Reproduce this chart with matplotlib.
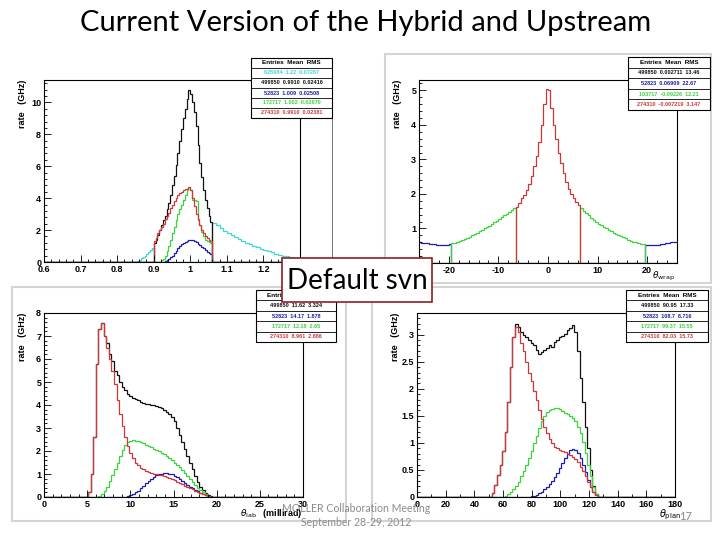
import numpy as np
import matplotlib
matplotlib.use('Agg')
import matplotlib.pyplot as plt
from matplotlib.patches import Rectangle
from matplotlib.ticker import MultipleLocator, FuncFormatter

# ---- data ----
# panel 1: x = 0.6..1.3, bins of 0.005
p1_black_start = 0.90
p1_black = [1.2, 1.4, 1.7, 2.0, 2.3, 2.6, 2.9, 3.3, 3.7, 4.2, 4.8, 5.4, 6.1, 6.8, 7.6, 8.3,
            9.0, 9.6, 10.2, 10.8, 10.5, 10.0, 9.4, 8.5, 7.3, 6.2, 5.3, 4.5, 3.9, 3.4, 2.9, 2.5]
p1_red_start = 0.90
p1_red = [1.3, 1.5, 1.8, 2.0, 2.2, 2.4, 2.7, 2.9, 3.1, 3.4, 3.6, 3.8, 4.0, 4.2, 4.3, 4.4,
          4.5, 4.6, 4.6, 4.7, 4.5, 4.0, 3.5, 3.0, 2.6, 2.3, 2.0, 1.8, 1.6, 1.5, 1.4, 1.3]
p1_green_start = 0.92
p1_green = [0.1, 0.2, 0.4, 0.7, 1.0, 1.4, 1.8, 2.2, 2.6, 3.0, 3.3, 3.6, 3.9, 4.2, 4.5, 4.7,
            4.5, 3.9, 3.9, 3.8, 2.7, 2.3, 1.9, 1.6, 1.4, 1.3, 1.25, 1.2]
p1_blue_start = 0.93
p1_blue = [0.05, 0.12, 0.2, 0.3, 0.4, 0.55, 0.7, 0.85, 1.0, 1.1, 1.2, 1.27, 1.32, 1.35, 1.36,
           1.35, 1.3, 1.25, 1.15, 1.05, 0.95, 0.85, 0.75, 0.65, 0.58, 0.52]
p1_cyan_left_start = 0.85
p1_cyan_left = [0.03, 0.08, 0.15, 0.22, 0.3, 0.4, 0.5, 0.62, 0.75, 0.9]
p1_cyan_right_start = 1.06   # bins of 0.01
p1_cyan_right = [2.45, 2.3, 2.12, 1.96, 1.82, 1.68, 1.55, 1.43, 1.31, 1.2, 1.1, 1.0,
                 0.92, 0.84, 0.76, 0.68, 0.6, 0.53, 0.46, 0.4, 0.35, 0.3, 0.26, 0.22]

# panel 2: x = -26..26, bins of 0.5
p2_red_start = -6.5
p2_red = [1.62, 1.75, 1.87, 1.98, 2.12, 2.30, 2.52, 2.80, 3.10, 3.50, 4.00, 4.60, 5.05,
          5.00, 4.50, 4.00, 3.60, 3.20, 2.90, 2.60, 2.35, 2.15, 2.00, 1.88, 1.78, 1.68]
p2_green_left_start = -19.5
p2_green_left = [0.57, 0.59, 0.62, 0.64, 0.67, 0.70, 0.73, 0.76, 0.80, 0.84, 0.88, 0.92, 0.96,
                 1.00, 1.04, 1.08, 1.13, 1.18, 1.23, 1.28, 1.33, 1.38, 1.43, 1.48, 1.53, 1.58]
p2_green_right_start = 6.5
p2_green_right = [1.60, 1.52, 1.45, 1.38, 1.31, 1.25, 1.19, 1.14, 1.09, 1.04, 1.00, 0.96, 0.92,
                  0.88, 0.84, 0.80, 0.77, 0.74, 0.71, 0.68, 0.65, 0.62, 0.60, 0.58, 0.56, 0.55]
p2_blue_left_start = -26.0
p2_blue_left = [0.60, 0.59, 0.58, 0.57, 0.56, 0.55, 0.54, 0.53, 0.53, 0.52, 0.52, 0.53, 0.54]
p2_blue_right_start = 19.5
p2_blue_right = [0.52, 0.51, 0.51, 0.52, 0.52, 0.53, 0.54, 0.55, 0.57, 0.58, 0.60, 0.61, 0.62]

# panel 3: theta_lab 0..30 mrad, bins of 0.3
p3_black_start = 5.1
p3_black = [0.2, 1.0, 2.6, 5.8, 7.3, 7.55, 7.0, 6.7, 6.2, 5.9, 5.5, 5.3, 5.0, 4.8, 4.65, 4.5,
            4.4, 4.3, 4.25, 4.2, 4.15, 4.1, 4.05, 4.05, 4.0, 4.02, 3.95, 3.9, 3.85, 3.8, 3.7,
            3.6, 3.5, 3.3, 3.0, 2.7, 2.4, 2.1, 1.8, 1.5, 1.2, 0.9, 0.65, 0.45, 0.3, 0.18, 0.08, 0.03]
p3_red_start = 5.1
p3_red = [0.2, 1.0, 2.6, 5.8, 7.3, 7.55, 7.0, 6.5, 6.0, 5.5, 4.9, 4.2, 3.6, 3.1, 2.6, 2.2,
          1.9, 1.7, 1.5, 1.38, 1.27, 1.2, 1.13, 1.08, 1.05, 1.02, 1.0, 0.97, 0.95, 0.9, 0.86,
          0.82, 0.77, 0.72, 0.66, 0.6, 0.55, 0.5, 0.44, 0.38, 0.33, 0.27, 0.21, 0.16, 0.11,
          0.07, 0.04, 0.02]
p3_green_start = 6.3
p3_green = [0.05, 0.12, 0.25, 0.45, 0.7, 0.95, 1.2, 1.5, 1.8, 2.05, 2.25, 2.38, 2.45, 2.47,
            2.45, 2.42, 2.38, 2.33, 2.28, 2.22, 2.16, 2.1, 2.04, 1.98, 1.92, 1.85, 1.78, 1.7,
            1.6, 1.5, 1.4, 1.3, 1.18, 1.05, 0.92, 0.78, 0.65, 0.52, 0.4, 0.29, 0.2, 0.12, 0.06, 0.02]
p3_blue_start = 9.3
p3_blue = [0.01, 0.03, 0.07, 0.13, 0.2, 0.28, 0.38, 0.48, 0.6, 0.7, 0.8, 0.88, 0.94, 0.99,
           1.02, 1.04, 1.04, 1.02, 0.98, 0.92, 0.85, 0.77, 0.68, 0.6, 0.52, 0.45, 0.38, 0.31,
           0.25, 0.19, 0.13, 0.08, 0.04, 0.01]

# panel 4: 0..180, bins of 1.8
p4_black_start = 52.2
p4_black = [0.08, 0.22, 0.4, 0.6, 0.85, 1.2, 1.75, 2.4, 2.95, 3.2, 3.15, 3.05, 3.0, 2.95,
            2.9, 2.85, 2.8, 2.72, 2.65, 2.68, 2.72, 2.76, 2.8, 2.78, 2.86, 2.9, 2.95, 2.98,
            3.02, 3.08, 3.12, 3.18, 3.05, 2.7, 2.2, 1.75, 1.3, 0.9, 0.5, 0.2, 0.05]
p4_red_start = 52.2
p4_red = [0.08, 0.22, 0.4, 0.6, 0.85, 1.2, 1.75, 2.4, 2.95, 3.15, 3.05, 2.85, 2.7, 2.5,
          2.3, 2.15, 1.95, 1.8, 1.6, 1.45, 1.3, 1.18, 1.08, 1.0, 0.93, 0.9, 0.87, 0.85,
          0.83, 0.8, 0.78, 0.74, 0.7, 0.64, 0.56, 0.48, 0.38, 0.28, 0.18, 0.1, 0.04]
p4_green_start = 61.2
p4_green = [0.02, 0.05, 0.1, 0.15, 0.2, 0.28, 0.38, 0.48, 0.6, 0.72, 0.85, 1.0, 1.12, 1.28,
            1.4, 1.5, 1.57, 1.61, 1.63, 1.64, 1.64, 1.62, 1.58, 1.55, 1.53, 1.5, 1.46, 1.4,
            1.3, 1.18, 1.02, 0.82, 0.6, 0.38, 0.18, 0.05]
p4_blue_start = 79.2
p4_blue = [0.01, 0.02, 0.04, 0.07, 0.1, 0.14, 0.19, 0.24, 0.3, 0.37, 0.45, 0.54, 0.63, 0.72,
           0.8, 0.86, 0.88, 0.87, 0.82, 0.72, 0.6, 0.46, 0.32, 0.19, 0.09, 0.03]

stats_header = 'Entries  Mean  RMS'
stats1 = ['625984  1.22  0.07287', '499850  0.9910  0.02416', '52823  1.009  0.02508',
          '172717  1.002  0.02670', '274310  0.9910  0.02381']
stats2 = ['499850  0.002711  13.46', '52823  0.06909  22.67', '103717  -0.09226  12.21',
          '274310  -0.007219  3.147']
stats3 = ['499850  11.62  3.324', '52823  14.17  1.878', '172717  12.18  2.65', '274310  8.961  2.886']
stats4 = ['499850  90.95  17.33', '52823  108.7  8.716', '172717  99.37  15.55', '274310  82.03  15.73']

CYAN, BLACK, BLUE, GREEN, RED = '#3fd6d6', '#111111', '#1c1ca8', '#3ad43a', '#cc3838'

W, H = 720, 540
fig = plt.figure(figsize=(7.2, 5.4), dpi=100)


def px(l, t, r, b):
    return [l / W, 1 - b / H, (r - l) / W, (b - t) / H]


def hist(ax, lo, hi, w, segs, color):
    n = int(round((hi - lo) / w))
    edges = lo + w * np.arange(n + 1)
    h = np.zeros(n)
    for start, vals in segs:
        i = int(round((start - lo) / w))
        h[i:i + len(vals)] = vals
    ax.stairs(h, edges, baseline=None, color=color, lw=0.9)


def setup(ax, xlim, ylim, xmaj, xmin, ymaj, ymin, lab_x):
    ax.set_xlim(*xlim)
    ax.set_ylim(*ylim)
    ax.xaxis.set_major_locator(MultipleLocator(xmaj))
    ax.xaxis.set_minor_locator(MultipleLocator(xmin))
    ax.yaxis.set_major_locator(MultipleLocator(ymaj))
    ax.yaxis.set_minor_locator(MultipleLocator(ymin))
    fmt = FuncFormatter(lambda v, p: '%g' % round(v, 6))
    ax.xaxis.set_major_formatter(fmt)
    ax.yaxis.set_major_formatter(fmt)
    ax.tick_params(which='both', direction='in', top=False, right=False,
                   labelsize=6.5, pad=2, width=0.6)
    ax.tick_params(which='major', length=5)
    ax.tick_params(which='minor', length=2.5)
    for lab in ax.get_xticklabels() + ax.get_yticklabels():
        lab.set_fontweight('bold')
    for s in ax.spines.values():
        s.set_linewidth(0.8)
    ax.set_ylabel('rate   (GHz)', fontsize=6.5, fontweight='bold', loc='top')
    ax.yaxis.set_label_coords(lab_x, 1.0)


def statbox(l, t, r, b, rows, colors):
    n = len(rows) + 1
    rh = (b - t) / n
    fig.patches.append(Rectangle((l / W, 1 - b / H), (r - l) / W, (b - t) / H,
                                 transform=fig.transFigure, facecolor='white',
                                 edgecolor='black', lw=0.8, zorder=5))
    texts = [stats_header] + rows
    cols = ['black'] + colors
    for i, (txt, c) in enumerate(zip(texts, cols)):
        yc = t + rh * (i + 0.5)
        fig.text((l + r) / 2 / W, 1 - yc / H, txt, color=c, ha='center', va='center',
                 fontsize=4.6 if i == 0 else 4.0, fontweight='bold',
                 family='Liberation Sans', zorder=6)
        if i > 0:
            y0 = t + rh * i
            fig.lines.append(plt.Line2D([l / W, r / W], [1 - y0 / H, 1 - y0 / H],
                                        transform=fig.transFigure, color='black',
                                        lw=0.6, zorder=6))


plt.rcParams['font.family'] = ['Liberation Sans', 'DejaVu Sans']

# light grey canvas borders
for (l, t, r, b) in [(385, 54, 711, 283), (12, 287, 346, 521), (372, 287, 711, 521)]:
    fig.patches.append(Rectangle((l / W, 1 - b / H), (r - l) / W, (b - t) / H,
                                 transform=fig.transFigure, facecolor='none',
                                 edgecolor='#d4d4d4', lw=1.5, zorder=0))
fig.lines.append(plt.Line2D([332 / W, 332 / W], [1 - 118 / H, 1 - 262 / H],
                            transform=fig.transFigure, color='#777777', lw=0.7))

# ---- panel 1 ----
ax1 = fig.add_axes(px(44, 80, 300, 262))
hist(ax1, 0.6, 1.3, 0.005, [(p1_cyan_left_start, p1_cyan_left)], CYAN)
hist(ax1, 0.6, 1.3, 0.01, [(p1_cyan_right_start, p1_cyan_right)], CYAN)
hist(ax1, 0.6, 1.3, 0.005, [(p1_black_start, p1_black)], BLACK)
hist(ax1, 0.6, 1.3, 0.005, [(p1_blue_start, p1_blue)], BLUE)
hist(ax1, 0.6, 1.3, 0.005, [(p1_green_start, p1_green)], GREEN)
hist(ax1, 0.6, 1.3, 0.005, [(p1_red_start, p1_red)], RED)
setup(ax1, (0.6, 1.3), (0, 11.4), 0.1, 0.02, 2, 0.4, -0.066)

# ---- panel 2 ----
ax2 = fig.add_axes(px(419, 80, 677, 263))
hist(ax2, -26, 26, 0.5, [(p2_blue_left_start, p2_blue_left),
                         (p2_blue_right_start, p2_blue_right)], BLUE)
hist(ax2, -26, 26, 0.5, [(p2_green_left_start, p2_green_left),
                         (p2_green_right_start, p2_green_right)], GREEN)
hist(ax2, -26, 26, 0.5, [(p2_red_start, p2_red)], RED)
setup(ax2, (-26, 26), (0, 5.3), 10, 2, 1, 0.2, -0.066)
fig.text(652 / W, 1 - 276 / H, r'$\theta_{\mathrm{wrap}}$', fontsize=6.5, ha='left', va='center')

# ---- panel 3 ----
ax3 = fig.add_axes(px(44, 313, 303, 497))
hist(ax3, 0, 30, 0.3, [(p3_black_start, p3_black)], BLACK)
hist(ax3, 0, 30, 0.3, [(p3_blue_start, p3_blue)], BLUE)
hist(ax3, 0, 30, 0.3, [(p3_green_start, p3_green)], GREEN)
hist(ax3, 0, 30, 0.3, [(p3_red_start, p3_red)], RED)
setup(ax3, (0, 30), (0, 8), 5, 1, 1, 0.2, -0.066)
fig.text(303 / W, 1 - 514 / H, r'$\theta_{\mathrm{lab}}$   (millirad)', fontsize=6.5,
         fontweight='bold', ha='right', va='center')

# ---- panel 4 ----
ax4 = fig.add_axes(px(417, 313, 675, 497))
hist(ax4, 0, 180, 1.8, [(p4_black_start, p4_black)], BLACK)
hist(ax4, 0, 180, 1.8, [(p4_blue_start, p4_blue)], BLUE)
hist(ax4, 0, 180, 1.8, [(p4_green_start, p4_green)], GREEN)
hist(ax4, 0, 180, 1.8, [(p4_red_start, p4_red)], RED)
setup(ax4, (0, 180), (0, 3.4), 20, 10, 0.5, 0.1, -0.066)
fig.text(659 / W, 1 - 515 / H, r'$\theta_{\mathrm{plan}}$', fontsize=7, ha='left', va='center')

# ---- stat boxes ----
statbox(251, 58, 332, 118, stats1, [CYAN, BLACK, BLUE, GREEN, RED])
statbox(628, 57, 710, 110, stats2, [BLACK, BLUE, GREEN, RED])
statbox(256, 290, 336, 342, stats3, [BLACK, BLUE, GREEN, RED])
statbox(626, 290, 708, 342, stats4, [BLACK, BLUE, GREEN, RED])

# ---- slide text ----
fig.text(366 / W, 1 - 23 / H, 'Current Version of the Hybrid and Upstream', ha='center',
         va='center', fontsize=21, family='Lato', color='black')
fig.patches.append(Rectangle((282 / W, 1 - 302 / H), 150 / W, 44 / H,
                             transform=fig.transFigure, facecolor='white',
                             edgecolor='#8b1e22', lw=1.2, zorder=8))
fig.text(357 / W, 1 - 281 / H, 'Default svn', ha='center', va='center', fontsize=20,
         family='Lato', zorder=9)
fig.text(356 / W, 1 - 508 / H, 'MOLLER Collaboration Meeting', ha='center', va='center',
         fontsize=7.6, family='Lato', color='#8a8a8a', zorder=9)
fig.text(356 / W, 1 - 522 / H, 'September 28-29, 2012', ha='center', va='center',
         fontsize=7.6, family='Lato', color='#8a8a8a', zorder=9)
fig.text(686 / W, 1 - 516 / H, '17', ha='center', va='center', fontsize=8,
         family='Lato', color='#8a8a8a', zorder=9)

fig.savefig('out.png', dpi=100)
